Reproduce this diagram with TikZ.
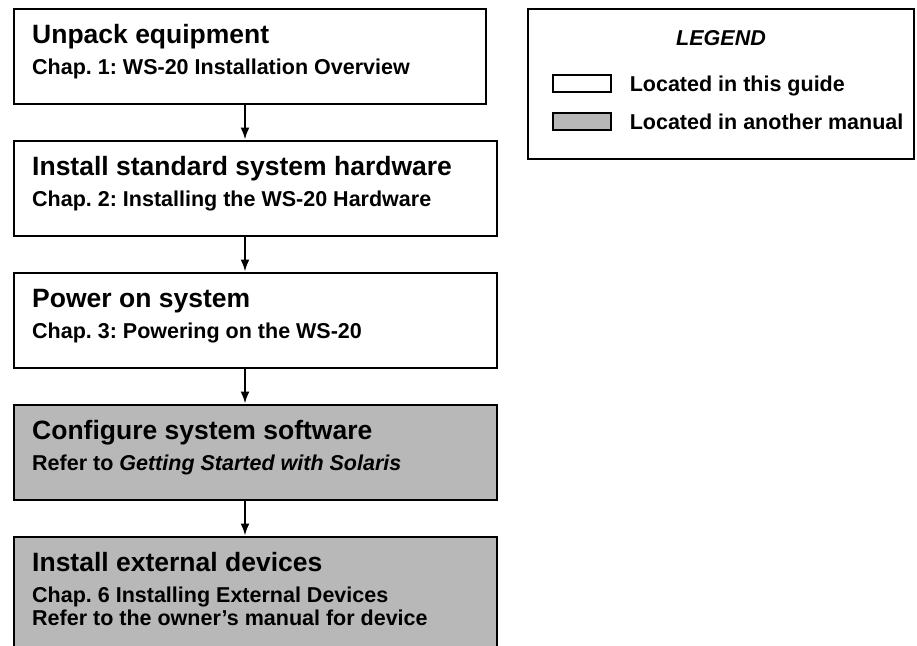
\documentclass[tikz,border=0pt]{standalone}
\usepackage{fontspec}
\setmainfont{Liberation Sans}
\usetikzlibrary{positioning,arrows.meta}
\frenchspacing
\def\bx{13}
\tikzstyle{stepbox}=[draw,line width=2pt,anchor=north west,minimum height=95pt,inner sep=0pt]
\tikzstyle{here}=[stepbox,fill=white]
\tikzstyle{other}=[stepbox,fill=black!28]
\tikzstyle{head}=[anchor=base west,inner sep=0pt,font=\bfseries\fontsize{26.5}{30}\selectfont]
\tikzstyle{sub}=[anchor=base west,inner sep=0pt,font=\bfseries\fontsize{21.5}{24}\selectfont]
\tikzstyle{swatch}=[draw,line width=1.6pt,anchor=north west,minimum width=58pt,minimum height=17pt,inner sep=0pt]
\newcommand{\newStep}[6]{\node[#4,minimum width=#3pt](#1) at (\bx,#2) {};
  \node[head](#1h) at ([xshift=19pt,yshift=-36pt]#1.north west) {#5};
  \node[sub](#1s) at ([yshift=-31pt]#1h.base west) {#6};}
\newcommand{\newArrow}[2]{\draw[->,line width=2pt] ([xshift=232pt]#1.south west) -- ([xshift=232pt]#2.north west);}

\begin{document}
\begin{tikzpicture}[x=1pt,y=-1pt,
    >={Latex[length=12pt,width=9pt]}
    ]
    \useasboundingbox (0,0) rectangle (917,645);
    \clip (0,0) rectangle (917,645);
    % steps
    \newStep{unpack}{7.5}{472}{here}{Unpack equipment}{Chap. 1: WS-20 Installation Overview}
    \newStep{hw}{139.5}{483}{here}{Install standard system hardware}{Chap. 2: Installing the WS-20 Hardware}
    \newStep{power}{271.5}{483}{here}{Power on system}{Chap. 3: Powering on the WS-20}
    \newStep{sw}{403.5}{483}{other}{Configure system software}{Refer to {\itshape Getting Started with Solaris}}
    \node[other,minimum width=483pt,minimum height=120pt](ext) at (\bx,535.5) {};
    \node[head](exth) at ([xshift=19pt,yshift=-36pt]ext.north west) {Install external devices};
    \node[sub](exts) at ([yshift=-31pt]exth.base west) {Chap. 6 Installing External Devices};
    \node[sub](exts2) at ([yshift=-23pt]exts.base west) {Refer to the owner's manual for device};
    \newArrow{unpack}{hw}
    \newArrow{hw}{power}
    \newArrow{power}{sw}
    \newArrow{sw}{ext}
    % legend
    \node[stepbox,minimum width=386pt,minimum height=150.5pt](legend) at (527,7.5) {};
    \node[sub,anchor=base,font=\bfseries\itshape\fontsize{21.5}{24}\selectfont](legendh) at ([yshift=-37.5pt]legend.north) {LEGEND};
    \node[swatch,fill=white](sw1) at (552,74) {};
    \node[swatch,fill=black!28](sw2) at (552,112) {};
    \node[sub](l1) at ([xshift=18pt,yshift=1pt]sw1.south east) {Located in this guide};
    \node[sub](l2) at ([xshift=18pt,yshift=1pt]sw2.south east) {Located in another manual};
\end{tikzpicture}
\end{document}
